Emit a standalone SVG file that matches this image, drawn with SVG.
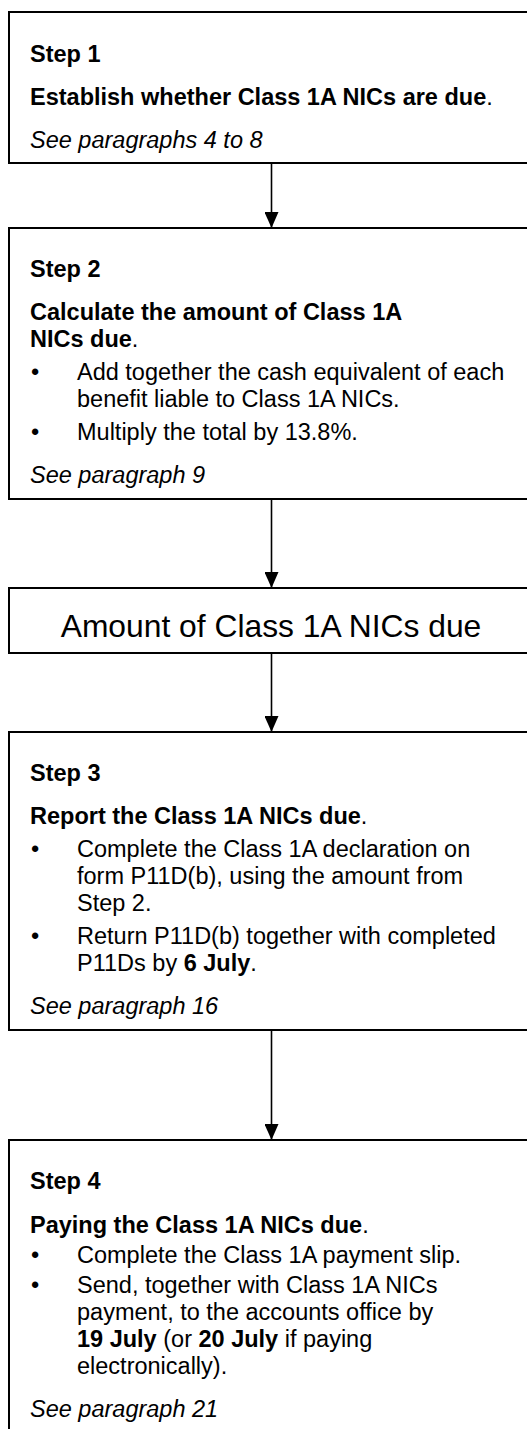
<svg xmlns="http://www.w3.org/2000/svg" width="527" height="1429" viewBox="0 0 527 1429">
<style>
text{font-family:"Liberation Sans",Arial,sans-serif;font-size:23.5px;fill:#000}
.b{font-weight:bold}
.i{font-style:italic}
.box{fill:#fff;stroke:#000;stroke-width:2}
.con{stroke:#000;stroke-width:1.6;fill:none}
</style>
<defs>
<marker id="ah" viewBox="0 0 16 14" refX="16" refY="7" markerWidth="16" markerHeight="14" markerUnits="userSpaceOnUse" orient="auto">
<path d="M0,0 L16,7 L0,14 Z" fill="#000"/>
</marker>
</defs>
<rect width="527" height="1429" fill="#fff"/>
<g id="connectors">
<line class="con" x1="271.5" y1="163" x2="271.5" y2="228" marker-end="url(#ah)"/>
<line class="con" x1="271.5" y1="499" x2="271.5" y2="588" marker-end="url(#ah)"/>
<line class="con" x1="271.5" y1="653" x2="271.5" y2="732" marker-end="url(#ah)"/>
<line class="con" x1="271.5" y1="1030" x2="271.5" y2="1140" marker-end="url(#ah)"/>
</g>
<g id="step1">
<rect class="box" x="9" y="12" width="524" height="151"/>
<text class="b" x="30" y="62">Step 1</text>
<text x="30" y="105"><tspan class="b">Establish whether Class 1A NICs are due</tspan>.</text>
<text class="i" x="30" y="148">See paragraphs 4 to 8</text>
</g>
<g id="step2">
<rect class="box" x="9" y="228" width="524" height="271"/>
<text class="b" x="30" y="277">Step 2</text>
<text class="b" x="30" y="320">Calculate the amount of Class 1A</text>
<text x="30" y="347"><tspan class="b">NICs due</tspan>.</text>
<text x="31" y="380">•</text>
<text x="77" y="380">Add together the cash equivalent of each</text>
<text x="77" y="407">benefit liable to Class 1A NICs.</text>
<text x="31" y="440">•</text>
<text x="77" y="440">Multiply the total by 13.8%.</text>
<text class="i" x="30" y="483">See paragraph 9</text>
</g>
<g id="amount">
<rect class="box" x="9" y="588" width="524" height="65"/>
<text x="271" y="637" text-anchor="middle" style="font-size:31.8px">Amount of Class 1A NICs due</text>
</g>
<g id="step3">
<rect class="box" x="9" y="732" width="524" height="298"/>
<text class="b" x="30" y="781">Step 3</text>
<text x="30" y="824"><tspan class="b">Report the Class 1A NICs due</tspan>.</text>
<text x="31" y="857">•</text>
<text x="77" y="857">Complete the Class 1A declaration on</text>
<text x="77" y="884">form P11D(b), using the amount from</text>
<text x="77" y="911">Step 2.</text>
<text x="31" y="944">•</text>
<text x="77" y="944">Return P11D(b) together with completed</text>
<text x="77" y="971">P11Ds by <tspan class="b">6 July</tspan>.</text>
<text class="i" x="30" y="1014">See paragraph 16</text>
</g>
<g id="step4">
<rect class="box" x="9" y="1140" width="524" height="320"/>
<text class="b" x="30" y="1189">Step 4</text>
<text x="30" y="1233"><tspan class="b">Paying the Class 1A NICs due</tspan>.</text>
<text x="31" y="1263">•</text>
<text x="77" y="1263">Complete the Class 1A payment slip.</text>
<text x="31" y="1293">•</text>
<text x="77" y="1293">Send, together with Class 1A NICs</text>
<text x="77" y="1320">payment, to the accounts office by</text>
<text x="77" y="1347"><tspan class="b">19 July</tspan> (or <tspan class="b">20 July</tspan> if paying</text>
<text x="77" y="1374">electronically).</text>
<text class="i" x="30" y="1417">See paragraph 21</text>
</g>
</svg>
